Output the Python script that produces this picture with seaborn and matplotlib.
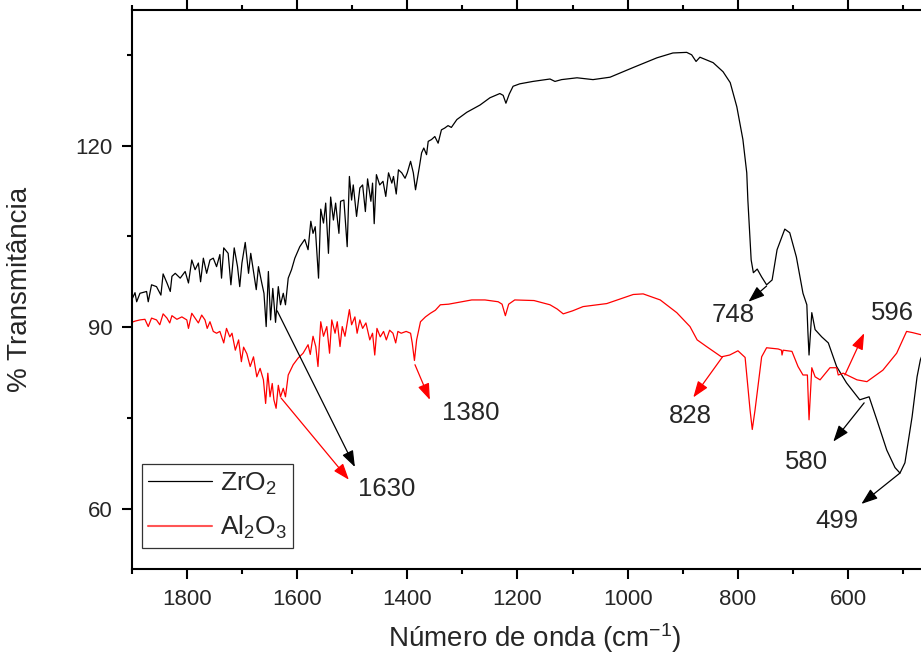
import pandas as pd
import matplotlib.pyplot as plt
import numpy as np
import seaborn as sns
from matplotlib.lines import Line2D
from matplotlib.ticker import MultipleLocator

# ZrO2 spectrum (wavenumber, % transmittance)
zr_wn = [1900, 1894, 1891, 1885, 1873, 1870, 1864, 1855, 1847, 1843, 1836, 1830, 1827, 1821,
         1812, 1803, 1797, 1791, 1785, 1779, 1775, 1770, 1764, 1758, 1752, 1746, 1740, 1737,
         1733, 1725, 1720, 1714, 1708, 1704, 1700, 1694, 1688, 1684, 1679, 1674, 1670, 1664,
         1660, 1656, 1652, 1648, 1644, 1639, 1634, 1630, 1625, 1621, 1616, 1610, 1604, 1595,
         1586, 1580, 1575, 1571, 1567, 1561, 1557, 1552, 1548, 1543, 1539, 1534, 1530, 1524,
         1521, 1515, 1509, 1505, 1501, 1498, 1492, 1486, 1481, 1476, 1472, 1466, 1463, 1460,
         1456, 1450, 1444, 1439, 1434, 1428, 1425, 1420, 1416, 1410, 1404, 1400, 1394, 1389,
         1385, 1378, 1374, 1370, 1365, 1362, 1356, 1350, 1344, 1338, 1332, 1326, 1320, 1310,
         1292, 1268, 1250, 1232, 1226, 1221, 1215, 1208, 1196, 1172, 1141, 1132, 1120, 1092,
         1063, 1032, 990, 947, 918, 893, 884, 876, 869, 845, 827, 814, 802, 791, 784, 782,
         776, 772, 765, 757, 748, 738, 729, 715, 706, 694, 682, 675, 673, 671, 666, 660, 648,
         636, 621, 603, 579, 562, 548, 530, 515, 506, 497, 484, 475, 469, 455]
zr_t = [94.5, 95.7, 94.2, 95.6, 95.9, 94.2, 97.0, 96.7, 95.3, 98.8, 97.3, 95.9, 98.4, 98.9,
        98.1, 99.2, 97.3, 101.1, 99.5, 100.6, 97.5, 101.4, 98.9, 101.1, 101.4, 100.0, 102.0, 98.1,
        103.1, 102.2, 97.0, 103.1, 100.0, 96.7, 100.6, 104.0, 98.9, 102.2, 99.2, 96.2, 100.0, 97.3,
        95.6, 90.1, 99.2, 91.2, 96.4, 90.8, 96.7, 93.7, 95.6, 93.7, 98.1, 99.5, 101.4, 103.3,
        104.5, 102.8, 107.5, 105.5, 106.6, 98.1, 109.5, 107.2, 110.5, 102.2, 111.5, 107.7, 110.5, 105.5,
        110.8, 111.0, 103.3, 114.9, 111.0, 113.5, 108.3, 113.0, 113.5, 109.1, 114.5, 110.8, 113.8, 107.1,
        115.2, 113.5, 114.1, 111.6, 115.5, 113.8, 114.9, 112.0, 116.0, 115.5, 114.6, 115.5, 117.4, 115.5,
        112.7, 116.5, 118.8, 119.6, 118.5, 120.7, 121.0, 121.5, 120.4, 122.6, 122.9, 123.3, 123.0, 124.3,
        125.5, 126.7, 127.9, 128.6, 128.3, 127.0, 128.5, 129.8, 130.2, 130.6, 131.0, 130.6, 130.9, 131.2,
        130.9, 131.3, 132.9, 134.5, 135.3, 135.4, 135.0, 133.9, 134.6, 133.7, 132.2, 130.4, 126.4, 121.0, 115.5, 111.0,
        101.1, 99.0, 99.6, 98.3, 97.0, 97.8, 102.8, 106.2, 105.6, 101.6, 95.6, 93.7, 89.1, 85.4, 92.4, 89.6, 88.4,
        87.4, 83.5, 80.8, 78.0, 78.5, 74.7, 69.7, 66.8, 65.9, 67.6, 75.2, 81.8, 84.6, 88.0]

# Al2O3 spectrum
al_wn = [1900, 1894, 1885, 1876, 1870, 1864, 1855, 1849, 1843, 1836, 1831, 1827, 1818, 1809,
         1800, 1797, 1791, 1785, 1779, 1773, 1767, 1763, 1758, 1752, 1746, 1740, 1733, 1728,
         1722, 1718, 1712, 1706, 1701, 1697, 1691, 1685, 1679, 1673, 1667, 1661, 1657, 1653,
         1649, 1645, 1642, 1638, 1634, 1630, 1625, 1621, 1616, 1607, 1598, 1589, 1580, 1576,
         1571, 1566, 1562, 1557, 1552, 1546, 1541, 1537, 1531, 1527, 1522, 1518, 1513, 1505,
         1501, 1495, 1491, 1486, 1481, 1475, 1468, 1463, 1459, 1455, 1449, 1443, 1438, 1432,
         1426, 1421, 1417, 1411, 1402, 1394, 1391, 1387, 1383, 1376, 1367, 1358, 1349, 1340,
         1325, 1307, 1283, 1259, 1235, 1228, 1222, 1216, 1205, 1170, 1141, 1128, 1117, 1100,
         1081, 1038, 990, 972, 941, 911, 887, 874, 857, 830, 815, 800, 787, 778, 774, 769,
         757, 748, 727, 721, 720, 718, 702, 691, 682, 674, 671, 666, 660, 651, 633, 621, 618,
         609, 584, 566, 537, 512, 494, 483, 470, 455]
al_t = [90.8, 91.0, 91.2, 91.3, 90.1, 91.5, 91.2, 90.4, 92.2, 91.5, 90.7, 91.9, 91.3, 91.7,
        91.2, 89.8, 92.3, 91.5, 90.7, 92.0, 91.2, 89.8, 90.9, 89.3, 89.0, 89.3, 87.4, 89.8,
        88.4, 89.0, 86.2, 87.9, 84.3, 86.7, 85.6, 83.5, 85.1, 81.8, 83.2, 81.3, 77.4, 82.4,
        78.5, 80.7, 78.0, 76.6, 80.4, 78.5, 79.9, 78.5, 82.1, 83.8, 84.9, 85.7, 87.1, 85.5,
        88.5, 86.8, 83.5, 90.9, 88.5, 90.1, 85.7, 91.2, 89.0, 90.9, 86.8, 90.1, 88.5, 92.9,
        90.4, 91.7, 89.0, 91.2, 89.8, 90.7, 87.9, 89.0, 85.4, 89.8, 88.4, 89.3, 87.9, 89.5,
        89.0, 87.4, 89.3, 89.0, 89.3, 89.0, 87.4, 84.5, 87.9, 90.9, 91.7, 92.3, 92.8, 93.7,
        93.8, 94.1, 94.5, 94.5, 94.2, 93.8, 91.9, 93.8, 94.5, 94.4, 93.7, 93.0, 92.2, 92.7,
        93.4, 93.9, 95.4, 95.5, 94.5, 92.4, 90.1, 87.9, 86.8, 85.1, 85.4, 86.1, 85.0, 76.3, 73.1, 76.3,
        85.1, 86.6, 86.4, 86.2, 85.4, 86.2, 86.0, 83.5, 82.1, 82.1, 74.7, 83.3, 81.8, 81.3, 83.3, 83.3, 82.1,
        82.4, 81.3, 81.0, 82.9, 85.7, 89.3, 89.1, 88.8, 88.5]

# peak labels: text, colour, arrow tail (on curve), arrow head, text position
peak_labels = ['1630', '1630', '1380', '828', '748', '596', '580', '499']
peak_colors = ['black', 'red', 'red', 'red', 'black', 'red', 'black', 'black']
arrow_tail = [(1636, 92.7), (1629, 78.3), (1386, 83.8), (828, 85.1),
              (748, 96.8), (606, 82.1), (571, 77.5), (506, 65.9)]
arrow_head = [(1495, 66.9), (1506, 64.8), (1359, 78.0), (881, 78.4),
              (781, 94.2), (571, 89.0), (627, 71.1), (576, 60.8)]
text_pos = [(1438, 63.3), None, (1284, 75.9), (886, 75.3),
            (809, 92.0), (520, 92.4), (676, 67.8), (620, 57.9)]

sns.set_style('ticks')
plt.rcParams['font.family'] = ['Liberation Sans', 'DejaVu Sans']

fig = plt.figure(figsize=(9.21, 6.56), dpi=100)
ax = fig.add_axes([131.7 / 921, 86.7 / 656, (938 - 131.7) / 921, 559.3 / 656])

zr = pd.DataFrame({'wn': zr_wn, 't': zr_t})
al = pd.DataFrame({'wn': al_wn, 't': al_t})
sns.lineplot(data=zr, x='wn', y='t', color='black', lw=0.9, estimator=None, ax=ax)
sns.lineplot(data=al, x='wn', y='t', color='red', lw=0.9, estimator=None, ax=ax)

for lab, col, tail, head, tpos in zip(peak_labels, peak_colors, arrow_tail, arrow_head, text_pos):
    ax.annotate('', xy=head, xytext=tail,
                arrowprops=dict(arrowstyle='-|>,head_length=0.55,head_width=0.2',
                                color=col, lw=0.9, mutation_scale=18,
                                shrinkA=0, shrinkB=0))
    if tpos is not None:
        ax.text(tpos[0], tpos[1], lab, fontsize=18.5, ha='center', va='center')

ax.set_xlim(1900, 437)
ax.set_ylim(50, 142.4)
ax.xaxis.set_major_locator(MultipleLocator(200))
ax.xaxis.set_minor_locator(MultipleLocator(100))
ax.yaxis.set_major_locator(MultipleLocator(30))
ax.yaxis.set_minor_locator(MultipleLocator(15))

for s in ax.spines.values():
    s.set_linewidth(1.5)
    s.set_color('black')
ax.tick_params(which='major', length=7, width=1.5, labelsize=16, pad=7, color='black')
ax.tick_params(which='minor', length=3.5, width=1.5, color='black')
ax.tick_params(axis='x', which='both', top=True)

ax.set_xlabel('Número de onda (cm$\\mathregular{^{-1}}$)', fontsize=20, labelpad=8)
ax.set_ylabel('% Transmitância', fontsize=20, labelpad=30)

handles = [Line2D([], [], color='black', lw=0.9), Line2D([], [], color='#ff5555', lw=1.5)]
leg = ax.legend(handles, ['$\\mathregular{ZrO_2}$', '$\\mathregular{Al_2O_3}$'],
                loc='lower left', bbox_to_anchor=(0.0124, 0.0386), borderaxespad=0,
                fontsize=19, handlelength=2.4, labelspacing=0.65, handletextpad=0.3,
                borderpad=0.25, fancybox=False, framealpha=1)
leg.get_frame().set_edgecolor('#333333')
leg.get_frame().set_linewidth(0.9)

plt.savefig('out.png', dpi=100)
